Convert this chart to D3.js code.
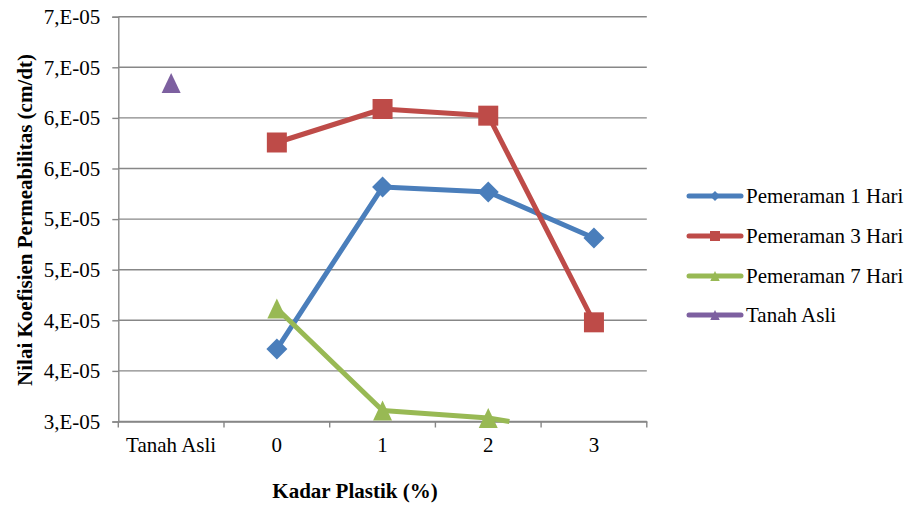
<!DOCTYPE html>
<html><head><meta charset="utf-8">
<script src="https://cdn.jsdelivr.net/npm/d3@7"></script>
<style>body{margin:0;background:#fff}svg{display:block}text{font-family:"Liberation Serif","Times New Roman",Times,serif;fill:#000}</style>
</head><body>
<svg id="c" width="909" height="505"></svg>
<script>
const categories = ["Tanah Asli","0","1","2","3"];
const yTicks = [3.0e-5,3.5e-5,4.0e-5,4.5e-5,5.0e-5,5.5e-5,6.0e-5,6.5e-5,7.0e-5];
const yTickLabels = ["3,E-05","4,E-05","4,E-05","5,E-05","5,E-05","6,E-05","6,E-05","7,E-05","7,E-05"];
const seriesNames = ["Pemeraman 1 Hari","Pemeraman 3 Hari","Pemeraman 7 Hari","Tanah Asli"];
const hari1 = [null,3.716e-5,5.317e-5,5.268e-5,4.813e-5];
const hari3 = [null,5.757e-5,6.088e-5,6.022e-5,3.98e-5];
const hari7 = [null,4.117e-5,3.109e-5,3.035e-5,2.86e-5];
const tanahAsli = [6.345e-5,null,null,null,null];
const colors = ["#4A7EBB","#BE4B48","#98B954","#7D60A0"];
const shapes = ["diamond","square","triangle","triangle"];

function shapePath(type, s){
  const h=s/2;
  if(type==="diamond") return `M0,${-h}L${h},0L0,${h}L${-h},0Z`;
  if(type==="square") return `M${-h},${-h}H${h}V${h}H${-h}Z`;
  return `M0,${-h}L${h*0.95},${h}L${-h*0.95},${h}Z`;
}

const svg = d3.select("#c");
const L=118.3, R=646.8, T=16.7, B=421.5;
const x = d3.scaleBand().domain(categories).range([L,R]);
const y = d3.scaleLinear().domain([3e-5,7e-5]).range([B,T]);
const grey="#878787";

svg.append("g").selectAll("line").data(yTicks).join("line")
  .attr("x1",L).attr("x2",R).attr("y1",d=>y(d)).attr("y2",d=>y(d))
  .attr("stroke",grey).attr("stroke-width",1.4);

const yAxis = d3.axisLeft(y).tickValues(yTicks).tickSize(6).tickPadding(12)
  .tickFormat((d,i)=>yTickLabels[i]);
const gy = svg.append("g").attr("transform",`translate(${L},0)`).call(yAxis);
gy.attr("font-family",null).attr("font-size",null);
gy.select(".domain").attr("stroke",grey).attr("stroke-width",1.4);
gy.selectAll(".tick line").attr("stroke",grey).attr("stroke-width",1.4);
gy.selectAll(".tick text").attr("font-size",21).attr("fill","#000");

const xAxis = d3.axisBottom(x).tickSize(0).tickPadding(16);
const gx = svg.append("g").attr("transform",`translate(0,${B})`).call(xAxis);
gx.attr("font-family",null).attr("font-size",null);
gx.select(".domain").attr("stroke",grey).attr("stroke-width",1.4);
gx.selectAll(".tick text").attr("font-size",21).attr("fill","#000");
const bounds = categories.map(c=>x(c)).concat([R]);
svg.append("g").selectAll("line").data(bounds).join("line")
  .attr("x1",d=>d).attr("x2",d=>d).attr("y1",B).attr("y2",B+6)
  .attr("stroke",grey).attr("stroke-width",1.4);

// clip polyline geometry to the value domain (like the spreadsheet does)
function clipPts(pts){
  const yMin=y.domain()[0];
  const out=[];
  for(let k=0;k<pts.length;k++){
    const p=pts[k];
    if(p.v>=yMin){ out.push([p.px,y(p.v)]); continue; }
    const prev=pts[k-1];
    if(prev && prev.v>=yMin){
      const t=(prev.v-yMin)/(prev.v-p.v);
      out.push([prev.px+t*(p.px-prev.px), y(yMin)]);
    }
  }
  return out;
}
const allSeries=[hari1,hari3,hari7,tanahAsli];
allSeries.forEach((s,i)=>{
  const pts = s.map((v,j)=>({px:x(categories[j])+x.bandwidth()/2,v})).filter(d=>d.v!=null);
  const c = clipPts(pts);
  if(c.length>1)
    svg.append("path").attr("d",d3.line()(c)).attr("fill","none")
      .attr("stroke",colors[i]).attr("stroke-width",5).attr("stroke-linejoin","round");
});
const mSize=[21,20,20,20];
allSeries.forEach((s,i)=>{
  const pts = s.map((v,j)=>({c:categories[j],v})).filter(d=>d.v!=null && d.v>=3e-5);
  svg.append("g").selectAll("path").data(pts).join("path")
    .attr("transform",d=>`translate(${x(d.c)+x.bandwidth()/2},${y(d.v)})`)
    .attr("d",shapePath(shapes[i],mSize[i])).attr("fill",colors[i]);
});

svg.append("text").attr("x",355).attr("y",498).attr("text-anchor","middle")
  .attr("font-weight","bold").attr("font-size",21).text("Kadar Plastik (%)");
svg.append("text").attr("transform","translate(32,220) rotate(-90)").attr("text-anchor","middle")
  .attr("font-weight","bold").attr("font-size",21).text("Nilai Koefisien Permeabilitas (cm/dt)");

const legY=[196,236,276,315];
const lg = svg.append("g");
seriesNames.forEach((n,i)=>{
  lg.append("line").attr("x1",689).attr("x2",741).attr("y1",legY[i]).attr("y2",legY[i])
    .attr("stroke",colors[i]).attr("stroke-width",5).attr("stroke-linecap","round");
  lg.append("path").attr("transform",`translate(715,${legY[i]})`)
    .attr("d",shapePath(shapes[i],10)).attr("fill",colors[i]);
  lg.append("text").attr("x",746).attr("y",legY[i]).attr("dy","0.35em")
    .attr("font-size",21).text(n);
});
</script>
</body></html>
